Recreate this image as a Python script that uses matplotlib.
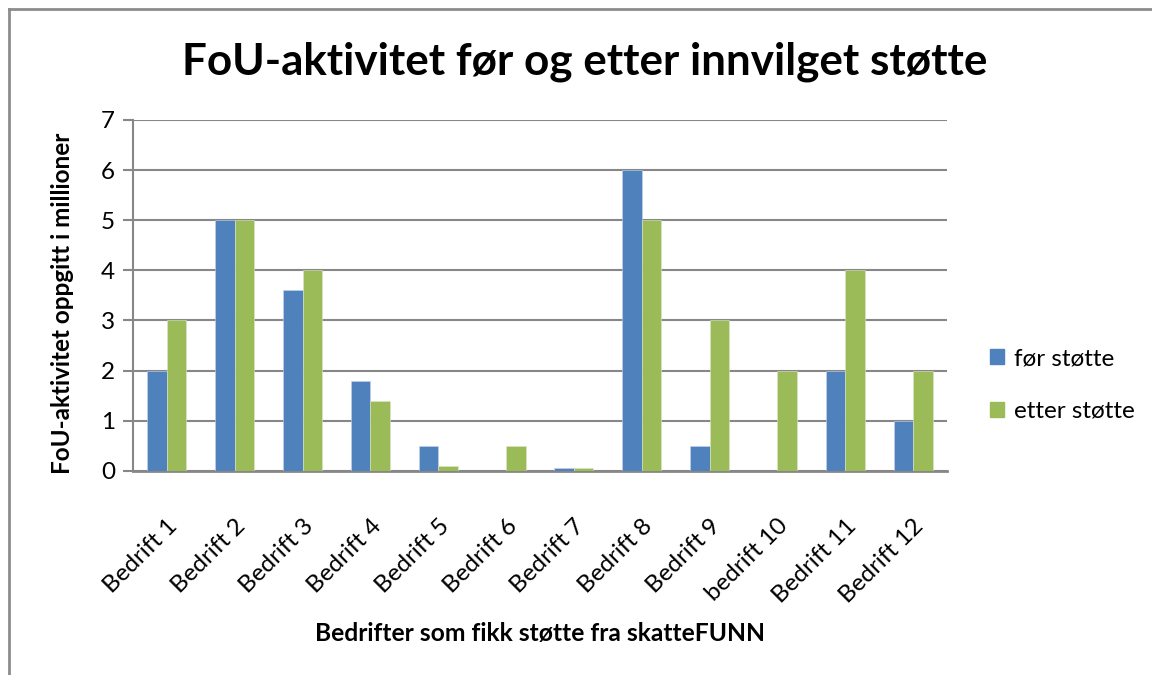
import matplotlib
matplotlib.use("Agg")
import matplotlib.pyplot as plt
import numpy as np
from matplotlib.lines import Line2D
from matplotlib.patches import Patch

categories = ["Bedrift 1", "Bedrift 2", "Bedrift 3", "Bedrift 4", "Bedrift 5", "Bedrift 6",
              "Bedrift 7", "Bedrift 8", "Bedrift 9", "bedrift 10", "Bedrift 11", "Bedrift 12"]
for_stotte = [2, 5, 3.6, 1.8, 0.5, 0, 0.05, 6, 0.5, 0, 2, 1]
etter_stotte = [3, 5, 4, 1.4, 0.1, 0.5, 0.05, 5, 3, 2, 4, 2]
series_names = ["før støtte", "etter støtte"]
yticks = [0, 1, 2, 3, 4, 5, 6, 7]

FONT = ["Lato", "DejaVu Sans"]
plt.rcParams['font.family'] = FONT

blue = "#4F81BD"
green = "#9BBB59"
grid = "#878787"

fig = plt.figure(figsize=(11.52, 6.75), dpi=100)
ax = fig.add_axes([133/1152, 1-470.7/675, (947-133)/1152, (470.7-120)/675])

x = np.arange(len(categories))
w = 0.288
ax.bar(x - w/2, for_stotte, w, color=blue, edgecolor="#c9d6ea", linewidth=0.4, label=series_names[0], zorder=3)
ax.bar(x + w/2, etter_stotte, w, color=green, edgecolor="#dbe6c6", linewidth=0.4, label=series_names[1], zorder=3)

ax.set_xlim(-0.5, len(categories) - 0.5)
ax.set_ylim(0, 7)
ax.set_yticks(yticks)
ax.yaxis.grid(True, color=grid, linewidth=1.5, zorder=0)
ax.set_axisbelow(True)
for s in ["top", "right"]:
    ax.spines[s].set_visible(False)
ax.spines["left"].set_color(grid)
ax.spines["left"].set_linewidth(1.5)
ax.spines["bottom"].set_color(grid)
ax.spines["bottom"].set_linewidth(2)
ax.tick_params(axis="y", length=7, width=1.5, color=grid, labelsize=17.5, pad=6)
ax.tick_params(axis="x", length=0, labelsize=17.5, pad=32)
ax.set_xticks(x)
ax.set_xticklabels(categories, rotation=45, ha="right", rotation_mode="anchor")

fig.text(540/1152, 1-633/675, "Bedrifter som fikk støtte fra skatteFUNN", ha="center", va="center",
         fontsize=17.7, fontweight="bold")
fig.text(63/1152, 1-303/675, "FoU-aktivitet oppgitt i millioner", ha="center", va="center",
         rotation=90, fontsize=17.5, fontweight="bold")

fig.text(585/1152, 1-62/675, "FoU-aktivitet før og etter innvilget støtte", ha="center", va="center",
         fontsize=31.7, fontweight="bold")

handles = [Patch(color=blue), Patch(color=green)]
fig.legend(handles, series_names, loc="center left", bbox_to_anchor=(968/1152, 1-385/675),
           frameon=False, fontsize=17.5, handlelength=0.6, handleheight=0.6, handletextpad=0.4,
           labelspacing=1.3)

# outer border (left and top)
fig.add_artist(Line2D([9/1152, 9/1152], [0, 1-9/675], color="#8c8c8c", linewidth=2, transform=fig.transFigure))
fig.add_artist(Line2D([9/1152, 1], [1-9/675, 1-9/675], color="#8c8c8c", linewidth=2, transform=fig.transFigure))

fig.savefig("out.png", dpi=100)
